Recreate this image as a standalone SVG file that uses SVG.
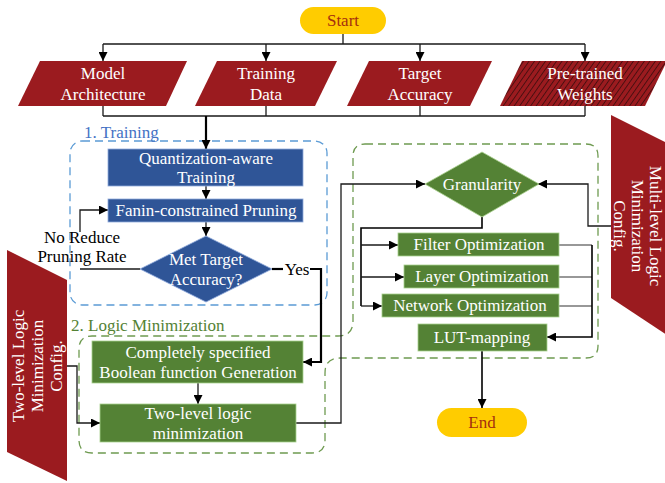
<svg xmlns="http://www.w3.org/2000/svg" width="665" height="483" viewBox="0 0 665 483">
<style>
text{font-family:"Liberation Serif","Times New Roman",serif;font-size:17px;text-anchor:middle}
.w{fill:#ffffff}
.red{fill:#9B1B1F}
.blue{fill:#2F5597;stroke:#8FAADC;stroke-width:0.8}
.green{fill:#548235;stroke:#A9D18E;stroke-width:0.8}
.term{fill:#FFCC00}
.termt{fill:#A5300F}
.c{fill:none;stroke:#1a1a1a;stroke-width:1.3}
.thick{fill:none;stroke:#000;stroke-width:2.2}
.g{fill:none;stroke:#333;stroke-width:1.1}
</style>
<defs>
<marker id="a" viewBox="0 0 10 10" refX="10" refY="5" markerWidth="10" markerHeight="9" markerUnits="userSpaceOnUse" orient="auto">
<path d="M0,0 L10,5 L0,10 Z" fill="#000"/>
</marker>
<pattern id="hatch" width="4.5" height="4.5" patternUnits="userSpaceOnUse" patternTransform="rotate(35)">
<rect width="4.5" height="4.5" fill="#9B1B1F"/>
<line x1="0.5" y1="0" x2="0.5" y2="4.5" stroke="#3a0c0c" stroke-width="0.8"/>
</pattern>
</defs>

<g id="region-training">
<rect x="70" y="141" width="257" height="164" rx="12" fill="none" stroke="#5B9BD5" stroke-width="1.3" stroke-dasharray="8,5"/>
<text x="84" y="138" style="text-anchor:start;fill:#4472C4;font-size:17px">1. Training</text>
</g>
<g id="region-logic">
<path d="M365 144 H586 Q598 144 598 156 V346 Q598 358 586 358 H340 Q325 358 325 373 V440 Q325 453 312 453 H92 Q79 453 79 440 V349 Q79 336 92 336 H338 Q353 336 353 321 V156 Q353 144 365 144 Z" fill="none" stroke="#6E9A50" stroke-width="1.3" stroke-dasharray="8,5"/>
<text x="71" y="331" style="text-anchor:start;fill:#548235;font-size:17px">2. Logic Minimization</text>
</g>

<g id="connectors">
<path class="c" d="M343 34 V44 M103 44 H585"/>
<path class="c" d="M103 44 V61" marker-end="url(#a)"/>
<path class="c" d="M266 44 V61" marker-end="url(#a)"/>
<path class="c" d="M420 44 V61" marker-end="url(#a)"/>
<path class="c" d="M585 44 V61" marker-end="url(#a)"/>
<path class="c" d="M103 106 V116 M266 106 V116 M420 106 V116 M585 106 V116 M103 116 H585"/>
<path class="thick" d="M206 116 V149" marker-end="url(#a)"/>
<path class="c" d="M206 186 V199" marker-end="url(#a)"/>
<path class="c" d="M206 222 V236" marker-end="url(#a)"/>
<path class="c" d="M140 269 H80"/>
<path class="c" d="M80 232 V210 H108" marker-end="url(#a)"/>
<path class="thick" d="M272 269 H283"/>
<path class="thick" d="M310 269 H321 V362 H303" marker-end="url(#a)"/>
<path class="c" d="M198 383 V404" marker-end="url(#a)"/>
<path class="c" d="M67 366 H77 V423 H100" marker-end="url(#a)"/>
<path class="c" d="M296 423 H341 V184 H425" marker-end="url(#a)"/>
<path class="c" d="M611 226 H588 V184 H538" marker-end="url(#a)"/>
<path class="thick" d="M482 217 V228 H361 V306" style="stroke-width:1.6"/>
<path class="c" d="M361 245 H398" marker-end="url(#a)"/>
<path class="c" d="M361 277 H404" marker-end="url(#a)"/>
<path class="c" d="M361 306 H382" marker-end="url(#a)"/>
<path class="g" d="M559 245 H592 M559 277 H592 M559 306 H592"/>
<path class="thick" d="M592 245 V337 H547" style="stroke-width:1.6" marker-end="url(#a)"/>
<path class="thick" d="M482 351 V408" style="stroke-width:1.6" marker-end="url(#a)"/>
</g>

<g id="start">
<rect class="term" x="300" y="7" width="86" height="27" rx="13.5"/>
<text class="termt" x="343" y="26">Start</text>
</g>
<g id="model-architecture">
<polygon class="red" points="40,61 187,61 166,106 18,106"/>
<text class="w" x="103" y="79">Model</text>
<text class="w" x="103" y="100">Architecture</text>
</g>
<g id="training-data">
<polygon class="red" points="217,61 337,61 315,106 195,106"/>
<text class="w" x="266" y="79">Training</text>
<text class="w" x="266" y="100">Data</text>
</g>
<g id="target-accuracy">
<polygon class="red" points="369,61 492,61 470,106 347,106"/>
<text class="w" x="420" y="79">Target</text>
<text class="w" x="420" y="100">Accuracy</text>
</g>
<g id="pretrained-weights">
<polygon points="522,61 667,61 645,106 500,106" fill="url(#hatch)"/>
<text class="w" x="585" y="79">Pre-trained</text>
<text class="w" x="585" y="100">Weights</text>
</g>

<g id="quantization">
<rect class="blue" x="108" y="149" width="195" height="37"/>
<text class="w" x="206" y="164">Quantization-aware</text>
<text class="w" x="206" y="183">Training</text>
</g>
<g id="fanin-pruning">
<rect class="blue" x="108" y="199" width="195" height="23"/>
<text class="w" x="206" y="216">Fanin-constrained Pruning</text>
</g>
<g id="met-target">
<polygon class="blue" points="206,236 272,269 206,302 140,269"/>
<text class="w" x="206" y="265">Met Target</text>
<text class="w" x="206" y="285">Accuracy?</text>
</g>
<g id="label-no">
<text x="82" y="243" fill="#000">No Reduce</text>
<text x="82" y="262" fill="#000">Pruning Rate</text>
</g>
<g id="label-yes">
<text x="297" y="275" fill="#000">Yes</text>
</g>

<g id="completely-specified">
<rect class="green" x="92" y="341" width="211" height="42"/>
<text class="w" x="198" y="358">Completely specified</text>
<text class="w" x="198" y="378">Boolean function Generation</text>
</g>
<g id="two-level-min">
<rect class="green" x="100" y="404" width="196" height="38"/>
<text class="w" x="198" y="419">Two-level logic</text>
<text class="w" x="198" y="439">minimization</text>
</g>
<g id="two-level-config">
<polygon class="red" points="7,250 67,280 67,481 7,452"/>
<g transform="translate(37,366) rotate(-90)">
<text class="w" x="0" y="-13">Two-level Logic</text>
<text class="w" x="0" y="6">Minimization</text>
<text class="w" x="0" y="25">Config.</text>
</g>
</g>

<g id="granularity">
<polygon class="green" points="482,152 539,184 482,217 425,184"/>
<text class="w" x="482" y="190">Granularity</text>
</g>
<g id="filter-opt">
<rect class="green" x="398" y="233" width="161" height="23"/>
<text class="w" x="479" y="250">Filter Optimization</text>
</g>
<g id="layer-opt">
<rect class="green" x="404" y="265" width="155" height="23"/>
<text class="w" x="482" y="282">Layer Optimization</text>
</g>
<g id="network-opt">
<rect class="green" x="382" y="294" width="177" height="23"/>
<text class="w" x="470" y="311">Network Optimization</text>
</g>
<g id="lut-mapping">
<rect class="green" x="418" y="324" width="129" height="27"/>
<text class="w" x="482" y="343">LUT-mapping</text>
</g>
<g id="multi-level-config">
<polygon class="red" points="611,115 667,143 667,335 611,298"/>
<g transform="translate(638,226) rotate(90)">
<text class="w" x="0" y="-12">Multi-level Logic</text>
<text class="w" x="0" y="6">Minimization</text>
<text class="w" x="0" y="24">Config.</text>
</g>
</g>
<g id="end">
<rect class="term" x="437" y="408" width="90" height="29" rx="14.5"/>
<text class="termt" x="482" y="428">End</text>
</g>
</svg>
